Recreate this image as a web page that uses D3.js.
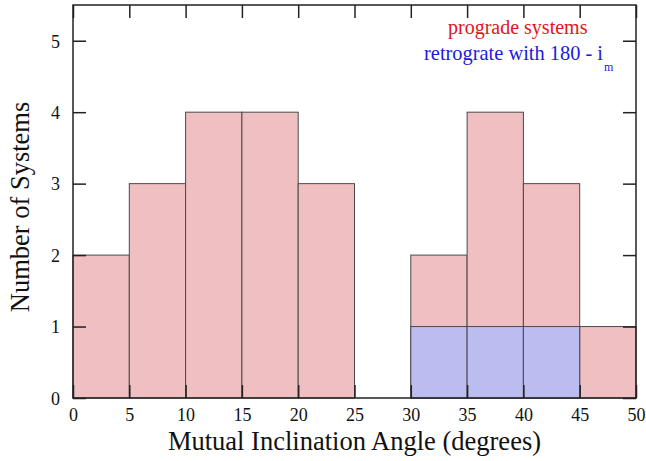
<!DOCTYPE html>
<html>
<head>
<meta charset="utf-8">
<script src="https://cdn.jsdelivr.net/npm/d3@7/dist/d3.min.js"></script>
<style>
  html, body { margin: 0; padding: 0; background: #fff; }
  svg { display: block; }
  text { font-family: "Liberation Serif", "Times New Roman", serif; }
</style>
</head>
<body>
<svg id="chart" width="646" height="461"></svg>
<script>
// Histogram bins (degrees) and counts per bin
const binStarts = [0, 5, 10, 15, 20, 25, 30, 35, 40, 45];
const binWidth = 5;
const progradeCounts = [2, 3, 4, 4, 3, 0, 2, 4, 3, 1];
const retrogradeCounts = [0, 0, 0, 0, 0, 0, 1, 1, 1, 0];
const xTicks = [0, 5, 10, 15, 20, 25, 30, 35, 40, 45, 50];
const yTicks = [0, 1, 2, 3, 4, 5];

const svg = d3.select("#chart");
const margin = { left: 73, right: 10, top: 5, bottom: 63 };
const W = 646, H = 461;

const x = d3.scaleLinear().domain([0, 50]).range([margin.left, W - margin.right]);
const y = d3.scaleLinear().domain([0, 5.5]).range([H - margin.bottom, margin.top]);

const stroke = "#4a4a4a";

function drawBars(counts, fill) {
  svg.append("g").selectAll("rect")
    .data(binStarts.map((s, i) => ({ s, v: counts[i] })).filter(d => d.v > 0))
    .join("rect")
    .attr("x", d => x(d.s))
    .attr("width", d => x(d.s + binWidth) - x(d.s))
    .attr("y", d => y(d.v))
    .attr("height", d => y(0) - y(d.v))
    .attr("fill", fill)
    .attr("stroke", stroke)
    .attr("stroke-width", 1);
}

// prograde bars, then retrograde (folded angle 180 - i_m) on top
drawBars(progradeCounts, "#efbfc2");
drawBars(retrogradeCounts, "#bbbcef");

const tickLen = 13;
const axisColor = "#222";

// bottom axis
const gx = svg.append("g")
  .attr("transform", `translate(0,${y(0)})`)
  .call(d3.axisBottom(x).tickValues(xTicks).tickSize(-tickLen).tickPadding(10).tickFormat(d3.format("d")));
// top axis (ticks only)
const gxt = svg.append("g")
  .attr("transform", `translate(0,${y(5.5)})`)
  .call(d3.axisTop(x).tickValues(xTicks).tickSize(-tickLen).tickFormat(""));
// left axis
const gy = svg.append("g")
  .attr("transform", `translate(${x(0)},0)`)
  .call(d3.axisLeft(y).tickValues(yTicks).tickSize(-tickLen).tickPadding(13).tickFormat(d3.format("d")));
// right axis (ticks only)
const gyr = svg.append("g")
  .attr("transform", `translate(${x(50)},0)`)
  .call(d3.axisRight(y).tickValues(yTicks).tickSize(-tickLen).tickFormat(""));

[gx, gxt, gy, gyr].forEach(g => {
  g.select(".domain").remove();
  g.selectAll(".tick line").attr("stroke", axisColor).attr("stroke-width", 1.5);
  g.selectAll("text").attr("fill", "#111").style("font-size", "18px");
});
gx.selectAll("text").attr("y", 10).attr("dy", "0.71em");
gy.selectAll("text").attr("dy", "0.35em");

// frame
svg.append("rect")
  .attr("x", x(0)).attr("y", y(5.5))
  .attr("width", x(50) - x(0)).attr("height", y(0) - y(5.5))
  .attr("fill", "none").attr("stroke", axisColor).attr("stroke-width", 1.5);

// axis titles
svg.append("text")
  .attr("x", (x(0) + x(50)) / 2).attr("y", 450)
  .attr("text-anchor", "middle")
  .style("font-size", "26.5px").attr("fill", "#111")
  .text("Mutual Inclination Angle (degrees)");

svg.append("text")
  .attr("transform", "translate(29,207) rotate(-90)")
  .attr("text-anchor", "middle")
  .style("font-size", "26.5px").attr("fill", "#111")
  .text("Number of Systems");

// legend
svg.append("text")
  .attr("x", 448).attr("y", 34)
  .style("font-size", "20px").attr("fill", "#e3141c")
  .text("prograde systems");

svg.append("text")
  .attr("x", 603).attr("y", 60)
  .attr("text-anchor", "end")
  .style("font-size", "20.4px").attr("fill", "#1a1adf")
  .text("retrograte with 180 - i");
svg.append("text")
  .attr("x", 604).attr("y", 71)
  .style("font-size", "12px").attr("fill", "#1a1adf")
  .text("m");
</script>
</body>
</html>
